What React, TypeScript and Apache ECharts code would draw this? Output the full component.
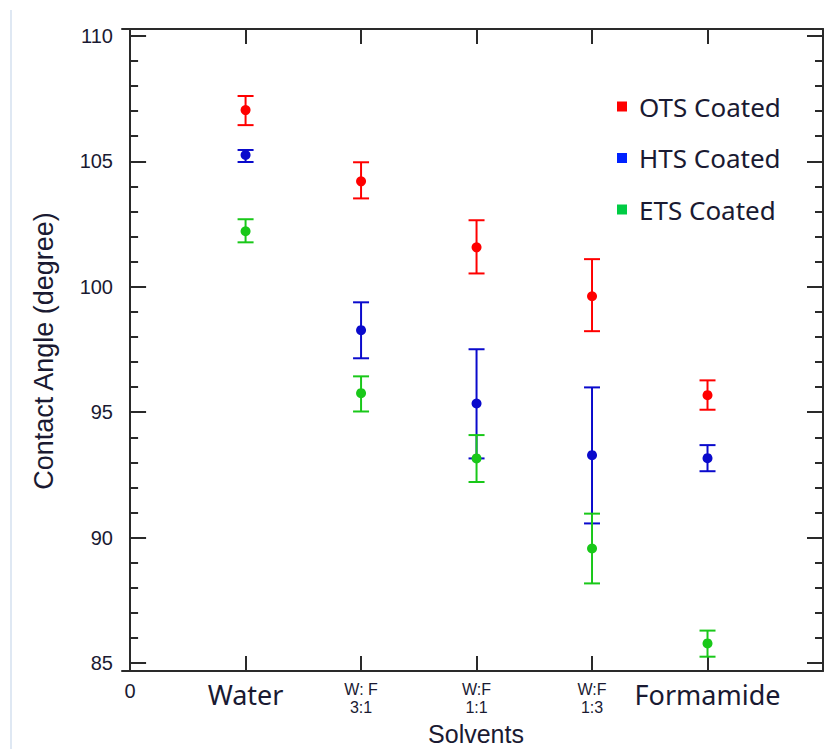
import React, { useEffect, useRef } from "react";
import * as echarts from "echarts";

// ---- data ----
const categories = ["Water", "W: F\n3:1", "W:F\n1:1", "W:F\n1:3", "Formamide"];
const xPositions = [1, 2, 3, 4, 5];
const xTickValues = [0, 1, 2, 3, 4, 5, 6];
const xLabelValues = [0, 1, 2, 3, 4, 5];
const yMajorTicks = [85, 90, 95, 100, 105, 110];
const yMinorTicks = [86, 87, 88, 89, 91, 92, 93, 94, 96, 97, 98, 99, 101, 102, 103, 104, 106, 107, 108, 109];

const seriesNames = ["OTS Coated", "HTS Coated", "ETS Coated"];

const otsMean = [107.04, 104.2, 101.57, 99.62, 95.68];
const otsLow = [106.44, 103.52, 100.53, 98.23, 95.1];
const otsHigh = [107.6, 104.96, 102.65, 101.1, 96.27];

const htsMean = [105.25, 98.27, 95.35, 93.29, 93.17];
const htsLow = [104.97, 97.15, 93.16, 90.57, 92.65];
const htsHigh = [105.45, 99.38, 97.51, 95.99, 93.69];

const etsMean = [102.21, 95.76, 93.16, 89.57, 85.79];
const etsLow = [101.77, 95.03, 92.22, 88.18, 85.26];
const etsHigh = [102.69, 96.43, 94.09, 90.96, 86.3];

const X_MIN = -0.07;
const X_MAX = 6;
const Y_MIN = 84.69;
const Y_MAX = 110.27;

const seriesColors = ["#ff0000", "#0a0acc", "#19c819"];
const legendColors = ["#ff0000", "#0022ff", "#00cc44"];
const textColor = "#1a1a32";
const axisColor = "#2a2a2a";

function errorBarRender(color: string) {
  return (params: any, api: any) => {
    const x = api.value(0);
    const lo = api.value(1);
    const hi = api.value(2);
    const pHi = api.coord([x, hi]);
    const pLo = api.coord([x, lo]);
    const hw = 8;
    const style = { stroke: color, lineWidth: 2 };
    return {
      type: "group",
      children: [
        { type: "line", shape: { x1: pHi[0], y1: pHi[1], x2: pLo[0], y2: pLo[1] }, style },
        { type: "line", shape: { x1: pHi[0] - hw, y1: pHi[1], x2: pHi[0] + hw, y2: pHi[1] }, style },
        { type: "line", shape: { x1: pLo[0] - hw, y1: pLo[1], x2: pLo[0] + hw, y2: pLo[1] }, style },
      ],
    };
  };
}

export default function App() {
  const ref = useRef<HTMLDivElement>(null);

  useEffect(() => {
    document.body.style.margin = "0";
    if (!ref.current) return;
    const chart = echarts.init(ref.current, null, { renderer: "svg" });

    const means = [otsMean, htsMean, etsMean];
    const lows = [otsLow, htsLow, etsLow];
    const highs = [otsHigh, htsHigh, etsHigh];

    const series: any[] = [];
    seriesNames.forEach((name, s) => {
      series.push({
        name,
        type: "custom",
        xAxisIndex: 0,
        yAxisIndex: 0,
        renderItem: errorBarRender(seriesColors[s]),
        encode: { x: 0, y: [1, 2] },
        data: xPositions.map((x, i) => [x, lows[s][i], highs[s][i]]),
        z: 2,
      });
    });
    seriesNames.forEach((name, s) => {
      series.push({
        name,
        type: "scatter",
        xAxisIndex: 0,
        yAxisIndex: 0,
        symbol: "circle",
        symbolSize: 10,
        itemStyle: { color: seriesColors[s], opacity: 1 },
        data: xPositions.map((x, i) => [x, means[s][i]]),
        z: 3,
      });
    });

    const axisLine = { show: true, lineStyle: { color: axisColor, width: 2 } };

    const xLabelFormatter = (v: number) => {
      if (v === 0) return "{zero|0}";
      const c = categories[Math.round(v) - 1];
      if (!c) return "";
      if (c.indexOf("\n") >= 0) return c.split("\n").map((l) => `{small|${l}}`).join("\n");
      return `{big|${c}}`;
    };

    const option: any = {
      animation: false,
      backgroundColor: "#ffffff",
      grid: { left: 122, right: 2, top: 29, bottom: 78, containLabel: false, outerBoundsMode: "none" },
      legend: {
        orient: "vertical",
        left: 612,
        top: 88.5,
        itemWidth: 10,
        itemHeight: 10,
        itemGap: 25.5,
        icon: "rect",
        selectedMode: false,
        data: seriesNames.map((n, i) => ({ name: n, itemStyle: { color: legendColors[i] } })),
        formatter: (n: string) => `{t|${n}}`,
        textStyle: {
          rich: {
            t: {
              fontFamily: "Noto Sans",
              fontSize: 26,
              lineHeight: 30,
              color: textColor,
              padding: [0, 0, 0, 7],
            },
          },
        },
      },
      xAxis: [
        {
          type: "value",
          position: "bottom",
          min: X_MIN,
          max: X_MAX,
          axisLine,
          splitLine: { show: false },
          axisTick: {
            show: true,
            inside: true,
            length: 15,
            customValues: xTickValues,
            lineStyle: { color: axisColor, width: 2 },
          },
          axisLabel: {
            show: true,
            margin: 9,
            customValues: xLabelValues,
            formatter: xLabelFormatter,
            verticalAlign: "top",
            rich: {
              zero: { fontFamily: "Liberation Sans", fontSize: 20, lineHeight: 22, color: textColor },
              big: { fontFamily: "Noto Sans", fontSize: 27, lineHeight: 29, color: textColor },
              small: { fontFamily: "Liberation Sans", fontSize: 16, lineHeight: 18, color: textColor },
            },
          },
        },
        {
          type: "value",
          position: "top",
          min: X_MIN,
          max: X_MAX,
          axisLine,
          splitLine: { show: false },
          axisTick: {
            show: true,
            inside: true,
            length: 15,
            customValues: xTickValues,
            lineStyle: { color: axisColor, width: 2 },
          },
          axisLabel: { show: false },
        },
      ],
      yAxis: [
        {
          type: "value",
          position: "left",
          min: Y_MIN,
          max: Y_MAX,
          axisLine,
          splitLine: { show: false },
          axisTick: {
            show: true,
            inside: true,
            length: 16,
            customValues: yMajorTicks,
            lineStyle: { color: axisColor, width: 2 },
          },
          axisLabel: {
            show: true,
            margin: 9,
            customValues: yMajorTicks,
            fontFamily: "Liberation Sans",
            fontSize: 20,
            color: textColor,
          },
        },
        {
          type: "value",
          position: "left",
          min: Y_MIN,
          max: Y_MAX,
          axisLine: { show: false },
          splitLine: { show: false },
          axisTick: {
            show: true,
            inside: true,
            length: 8,
            customValues: yMinorTicks,
            lineStyle: { color: axisColor, width: 2 },
          },
          axisLabel: { show: false },
        },
        {
          type: "value",
          position: "right",
          min: Y_MIN,
          max: Y_MAX,
          axisLine,
          splitLine: { show: false },
          axisTick: {
            show: true,
            inside: true,
            length: 16,
            customValues: yMajorTicks,
            lineStyle: { color: axisColor, width: 2 },
          },
          axisLabel: { show: false },
        },
        {
          type: "value",
          position: "right",
          min: Y_MIN,
          max: Y_MAX,
          axisLine: { show: false },
          splitLine: { show: false },
          axisTick: {
            show: true,
            inside: true,
            length: 8,
            customValues: yMinorTicks,
            lineStyle: { color: axisColor, width: 2 },
          },
          axisLabel: { show: false },
        },
      ],
      graphic: [
        {
          type: "rect",
          shape: { x: 10, y: 10, width: 2, height: 739 },
          style: { fill: "#dfe8f3" },
          silent: true,
        },
        {
          type: "text",
          x: 476,
          y: 734,
          style: {
            text: "Solvents",
            fontFamily: "Liberation Sans",
            fontSize: 25,
            fill: textColor,
            align: "center",
            verticalAlign: "middle",
          },
        },
        {
          type: "text",
          x: 44,
          y: 351,
          rotation: Math.PI / 2,
          style: {
            text: "Contact Angle (degree)",
            fontFamily: "Liberation Sans",
            fontSize: 27,
            fill: textColor,
            align: "center",
            verticalAlign: "middle",
          },
        },
      ],
      series,
    };

    chart.setOption(option);
    return () => chart.dispose();
  }, []);

  return <div ref={ref} style={{ width: 825, height: 749 }} />;
}
